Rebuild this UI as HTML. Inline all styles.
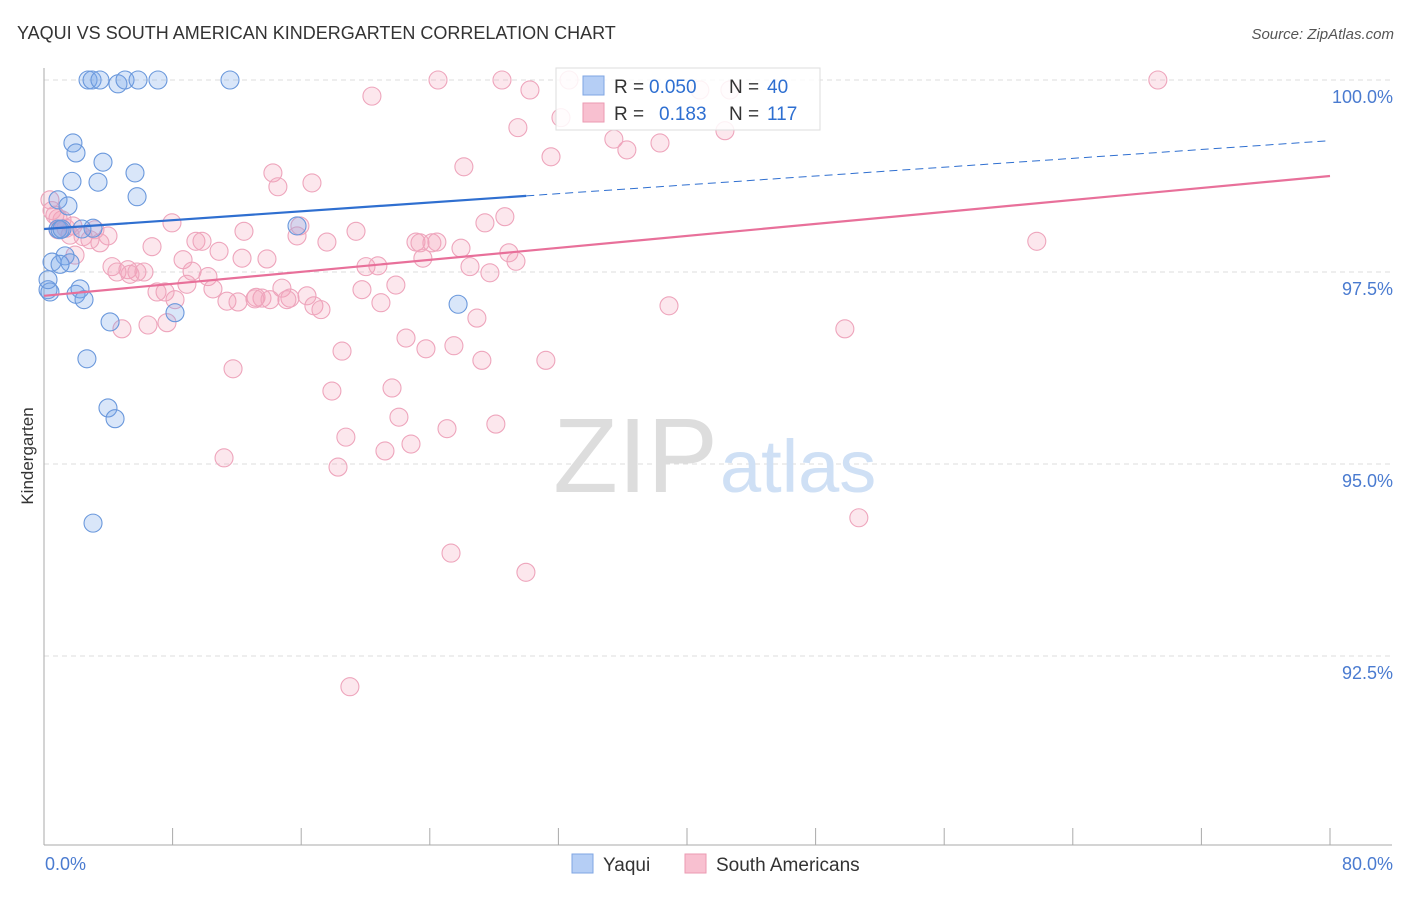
<!DOCTYPE html>
<html><head><meta charset="utf-8"><style>
body{margin:0;background:#fff;font-family:"Liberation Sans",sans-serif;}
svg text{font-family:"Liberation Sans",sans-serif;}
</style></head><body>
<svg id="chart" width="1406" height="892">
<text x="17" y="39" font-size="18" fill="#333">YAQUI VS SOUTH AMERICAN KINDERGARTEN CORRELATION CHART</text>
<text x="1394" y="39" font-size="15" fill="#555" text-anchor="end" font-style="italic">Source: ZipAtlas.com</text>
<text x="33" y="456" font-size="17" fill="#333" text-anchor="middle" transform="rotate(-90 33 456)">Kindergarten</text>
<g id="grid"></g>
<g id="axes"></g>
<text x="718" y="492" font-size="106" fill="#ddd" font-family="Liberation Serif" text-anchor="end">ZIP</text>
<text x="720" y="492" font-size="74" fill="#cfe0f5">atlas</text>
<g id="pts"></g>
<g id="trends"></g>
<g>
<rect x="556" y="68" width="264" height="62" fill="#fff" fill-opacity="0.85" stroke="#ddd"/>
<rect x="583" y="76" width="21" height="19" fill="#b5cef5" stroke="#7fa6e3"/>
<rect x="583" y="103" width="21" height="19" fill="#f8c0d0" stroke="#eb9ab2"/>
<text x="614" y="93" font-size="19" fill="#333">R =</text>
<text x="649" y="93" font-size="19" fill="#2e6fd1">0.050</text>
<text x="729" y="93" font-size="19" fill="#333">N =</text>
<text x="767" y="93" font-size="19" fill="#2e6fd1">40</text>
<text x="614" y="120" font-size="19" fill="#333">R =</text>
<text x="659" y="120" font-size="19" fill="#2e6fd1">0.183</text>
<text x="729" y="120" font-size="19" fill="#333">N =</text>
<text x="767" y="120" font-size="19" fill="#2e6fd1">117</text>
</g>
<g>
<rect x="572" y="854" width="21" height="19" fill="#b5cef5" stroke="#7fa6e3"/>
<text x="603" y="871" font-size="19" fill="#333">Yaqui</text>
<rect x="685" y="854" width="21" height="19" fill="#f8c0d0" stroke="#eb9ab2"/>
<text x="716" y="871" font-size="19" fill="#333">South Americans</text>
</g>
</svg>
<script>
const yTicks=[100,97.5,95,92.5];
const yTickLabels=["100.0%","97.5%","95.0%","92.5%"];
const xTickLabels=["0.0%","80.0%"];
const blueX=[2.74,2.99,3.48,4.60,5.04,5.85,7.09,11.57,1.80,1.99,3.67,3.36,1.74,5.66,5.79,0.87,1.49,3.05,2.36,0.87,1.00,15.74,1.31,1.62,0.50,1.00,0.25,0.37,1.99,2.24,2.49,4.11,8.15,2.67,3.98,4.42,3.05,25.76,0.25,1.12];
const blueY=[100,100,100,99.95,100,100,100,100,99.18,99.05,98.93,98.67,98.68,98.79,98.48,98.44,98.36,98.07,98.06,98.06,98.05,98.10,97.71,97.62,97.63,97.60,97.27,97.24,97.21,97.28,97.14,96.85,96.97,96.37,95.73,95.59,94.23,97.08,97.40,98.06];
const pinkX=[32.66,24.51,28.49,69.29,30.23,20.40,40.80,42.67,32.16,29.48,35.45,36.26,38.32,42.36,31.54,26.12,14.24,14.55,16.67,0.37,0.68,1.12,0.87,1.62,2.43,3.17,3.98,3.48,7.96,12.44,15.92,15.74,19.41,6.72,9.45,9.83,10.89,17.60,23.14,24.13,24.44,25.94,27.43,28.67,28.92,29.36,61.76,8.65,12.32,13.87,1.93,4.23,4.54,5.22,5.78,6.22,9.21,10.20,20.03,20.77,23.57,26.50,27.74,7.03,8.15,10.51,11.38,12.07,13.19,13.56,14.80,15.30,16.36,16.79,17.23,19.78,20.96,21.89,26.93,38.88,22.52,23.76,25.50,27.24,31.22,18.54,6.47,7.65,4.85,11.76,17.91,21.65,22.08,18.78,21.21,22.83,25.07,28.11,11.20,18.29,49.82,50.69,25.32,29.98,19.03,7.53,8.89,0.87,1.37,2.86,5.35,13.12,15.11,23.39,14.06,0.50,1.80];
const pinkY=[100,100,100,100,99.87,99.79,99.87,99.87,99.51,99.38,99.23,99.09,99.18,99.34,99.00,98.87,98.79,98.61,98.66,98.44,98.24,98.18,98.05,97.98,97.96,98.05,97.97,97.88,98.14,98.03,98.10,97.97,98.03,97.83,97.90,97.90,97.77,97.89,97.89,97.88,97.89,97.81,98.14,98.22,97.75,97.64,97.90,97.66,97.68,97.67,97.72,97.57,97.50,97.53,97.50,97.50,97.51,97.44,97.57,97.58,97.68,97.57,97.49,97.24,97.14,97.28,97.12,97.11,97.17,97.16,97.29,97.16,97.19,97.06,97.01,97.27,97.10,97.33,96.90,97.06,96.64,96.50,96.54,96.35,96.35,96.47,96.81,96.84,96.76,96.24,95.95,95.99,95.61,95.35,95.17,95.26,95.46,95.52,95.08,94.96,96.76,94.30,93.84,93.59,92.10,97.24,97.34,98.20,98.07,97.92,97.47,97.15,97.14,97.88,97.14,98.30,98.10];
const blueTrend=[98.06,99.21];
const pinkTrend=[97.19,98.75];
const blueSolidEnd=30.0;
const X=v=>44+v/80*1286, Y=v=>80+(100-v)*76.8;
const NS="http://www.w3.org/2000/svg";
function mk(tag,attrs,parent){const e=document.createElementNS(NS,tag);for(const k in attrs)e.setAttribute(k,attrs[k]);document.getElementById(parent).appendChild(e);return e;}
yTicks.forEach((t,i)=>{
 const l=mk('line',{x1:44,x2:1392,y1:Y(t),y2:Y(t),stroke:'#ddd','stroke-dasharray':'5,4'},'grid');
 
 
 const tx=mk('text',{x:1393,y:Y(t)+23,'font-size':18,fill:'#4a7bd0','text-anchor':'end'},'grid');
 tx.textContent=yTickLabels[i];
 
 
});
const ax=mk('line',{x1:44,x2:44,y1:68,y2:845,stroke:'#aaa'},'axes');


const bx=mk('line',{x1:44,x2:1392,y1:845,y2:845,stroke:'#aaa'},'axes');


for(let i=0;i<=10;i++){
 const t=mk('line',{x1:X(i*8),x2:X(i*8),y1:828,y2:845,stroke:'#aaa'},'axes');
 
 
}
[[0,'start',45],[80,'end',1393]].forEach((d,i)=>{
 const t=mk('text',{x:d[2],y:870,'font-size':18,fill:'#4a7bd0','text-anchor':d[1]},'axes');
 t.textContent=xTickLabels[i];
 
 
});
pinkX.forEach((x,i)=>{
 const c=mk('circle',{cx:X(x),cy:Y(pinkY[i]),r:9,fill:'rgba(244,160,185,0.25)',stroke:'#eea5bc','stroke-width':1.1},'pts');
 
 
});
blueX.forEach((x,i)=>{
 const c=mk('circle',{cx:X(x),cy:Y(blueY[i]),r:9,fill:'rgba(120,165,235,0.28)',stroke:'#6a98dc','stroke-width':1.1},'pts');
 
 
});
const by=x=>blueTrend[0]+(blueTrend[1]-blueTrend[0])*x/80;
const py=x=>pinkTrend[0]+(pinkTrend[1]-pinkTrend[0])*x/80;
let l=mk('line',{x1:X(0),y1:Y(py(0)),x2:X(80),y2:Y(py(80)),stroke:'#e8709a','stroke-width':2.2},'trends');


l=mk('line',{x1:X(0),y1:Y(by(0)),x2:X(blueSolidEnd),y2:Y(by(blueSolidEnd)),stroke:'#2f6fd0','stroke-width':2.2},'trends');


l=mk('line',{x1:X(blueSolidEnd),y1:Y(by(blueSolidEnd)),x2:X(80),y2:Y(by(80)),stroke:'#2f6fd0','stroke-width':1,'stroke-dasharray':'8,5'},'trends');


</script>
</body></html>
